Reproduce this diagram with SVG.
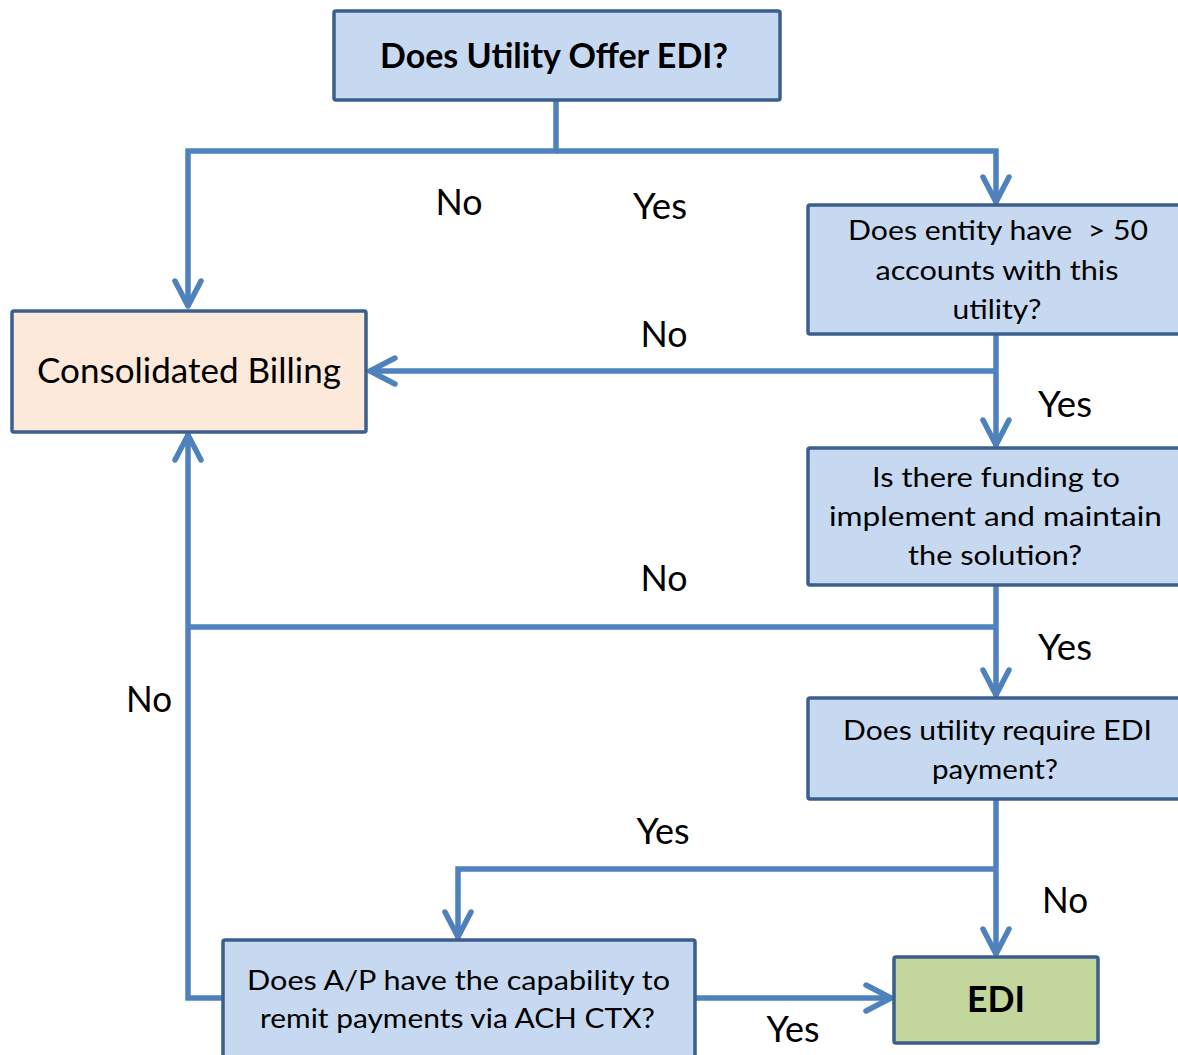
<svg xmlns="http://www.w3.org/2000/svg" width="1178" height="1055" viewBox="0 0 1178 1055">
<style>
.box{stroke:#3B5F8D;stroke-width:3.5}
.q{fill:#C6D9F1}
.cb{fill:#FDE9D9}
.edi{fill:#C3D69B}
.t{font-family:Lato,"Open Sans","Liberation Sans",sans-serif;fill:#000;text-anchor:middle}
.n{font-size:27px}
.b{font-weight:bold;font-size:35px}
.lbl{font-size:37px}
.c{fill:none;stroke:#4F81BD;stroke-width:5.5;stroke-linejoin:miter}
</style>
<defs>
<marker id="ah" markerUnits="userSpaceOnUse" viewBox="-30 -16 32 32" markerWidth="32" markerHeight="32" refX="0" refY="0" orient="auto" overflow="visible">
<path d="M-26,-13 L-1,0 L-26,13" fill="none" stroke="#4F81BD" stroke-width="5.5" stroke-linecap="round" stroke-linejoin="round"/>
</marker>
</defs>
<rect width="1178" height="1055" fill="#fff"/>
<g id="connectors">
<polyline class="c" points="556,100 556,151 188,151 188,307" marker-end="url(#ah)"/>
<polyline class="c" points="556,151 996,151 996,203" marker-end="url(#ah)"/>
<polyline class="c" points="996,335 996,446" marker-end="url(#ah)"/>
<polyline class="c" points="996,371 369,371" marker-end="url(#ah)"/>
<polyline class="c" points="996,586 996,696" marker-end="url(#ah)"/>
<polyline class="c" points="996,627 188,627"/>
<polyline class="c" points="223,998 188,998 188,434" marker-end="url(#ah)"/>
<polyline class="c" points="996,800 996,955" marker-end="url(#ah)"/>
<polyline class="c" points="996,869 458,869 458,938" marker-end="url(#ah)"/>
<polyline class="c" points="696,998 892,998" marker-end="url(#ah)"/>
<text class="t lbl" x="459" y="215" textLength="47" lengthAdjust="spacingAndGlyphs">No</text>
<text class="t lbl" x="660" y="219" textLength="54" lengthAdjust="spacingAndGlyphs">Yes</text>
<text class="t lbl" x="664" y="347" textLength="47" lengthAdjust="spacingAndGlyphs">No</text>
<text class="t lbl" x="1065" y="417" textLength="54" lengthAdjust="spacingAndGlyphs">Yes</text>
<text class="t lbl" x="664" y="591" textLength="47" lengthAdjust="spacingAndGlyphs">No</text>
<text class="t lbl" x="1065" y="660" textLength="54" lengthAdjust="spacingAndGlyphs">Yes</text>
<text class="t lbl" x="149" y="712" textLength="46" lengthAdjust="spacingAndGlyphs">No</text>
<text class="t lbl" x="663" y="844" textLength="53" lengthAdjust="spacingAndGlyphs">Yes</text>
<text class="t lbl" x="1065" y="913" textLength="46" lengthAdjust="spacingAndGlyphs">No</text>
<text class="t lbl" x="793" y="1042" textLength="53" lengthAdjust="spacingAndGlyphs">Yes</text>
</g>
<g id="node-offer-edi">
<rect class="box q" x="334" y="11" width="446" height="89" rx="2"/>
<text class="t b" x="554" y="68" textLength="348" lengthAdjust="spacingAndGlyphs">Does Utility Offer EDI?</text>
</g>
<g id="node-accounts">
<rect class="box q" x="808" y="205" width="390" height="129" rx="2"/>
<text class="t n" x="998" y="240" textLength="300" lengthAdjust="spacingAndGlyphs">Does entity have &#160;&gt; 50</text>
<text class="t n" x="997" y="280" textLength="243" lengthAdjust="spacingAndGlyphs">accounts with this</text>
<text class="t n" x="997" y="319" textLength="89" lengthAdjust="spacingAndGlyphs">utility?</text>
</g>
<g id="node-consolidated">
<rect class="box cb" x="12" y="311" width="354" height="121" rx="2"/>
<text class="t" style="font-size:35px" x="189" y="383" textLength="304" lengthAdjust="spacingAndGlyphs">Consolidated Billing</text>
</g>
<g id="node-funding">
<rect class="box q" x="808" y="448" width="390" height="137" rx="2"/>
<text class="t n" x="996" y="487" textLength="248" lengthAdjust="spacingAndGlyphs">Is there funding to</text>
<text class="t n" x="995.5" y="526" textLength="333" lengthAdjust="spacingAndGlyphs">implement and maintain</text>
<text class="t n" x="995" y="565" textLength="174" lengthAdjust="spacingAndGlyphs">the solution?</text>
</g>
<g id="node-require-edi">
<rect class="box q" x="808" y="698" width="390" height="101" rx="2"/>
<text class="t n" x="997.5" y="740" textLength="309" lengthAdjust="spacingAndGlyphs">Does utility require EDI</text>
<text class="t n" x="995" y="779" textLength="126" lengthAdjust="spacingAndGlyphs">payment?</text>
</g>
<g id="node-ap">
<rect class="box q" x="223" y="940" width="472" height="130" rx="2"/>
<text class="t n" x="458.5" y="990" textLength="423" lengthAdjust="spacingAndGlyphs">Does A/P have the capability to</text>
<text class="t n" x="457.5" y="1028" textLength="395" lengthAdjust="spacingAndGlyphs">remit payments via ACH CTX?</text>
</g>
<g id="node-edi">
<rect class="box edi" x="894" y="957" width="204" height="86" rx="2"/>
<text class="t b" style="font-size:36px" x="996" y="1012" textLength="58" lengthAdjust="spacingAndGlyphs">EDI</text>
</g>
</svg>
